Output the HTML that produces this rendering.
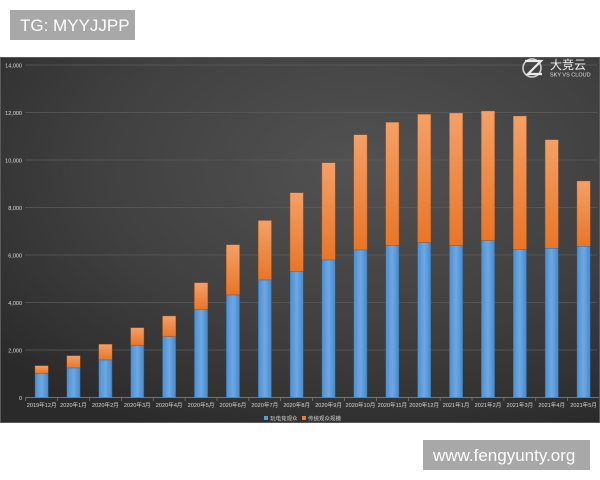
<!DOCTYPE html>
<html><head><meta charset="utf-8"><style>
html,body{margin:0;padding:0;background:#fff;width:600px;height:480px;overflow:hidden}
svg{display:block}
</style></head><body>
<svg width="600" height="480" viewBox="0 0 600 480" xmlns="http://www.w3.org/2000/svg" font-family="Liberation Sans, Noto Sans CJK SC, sans-serif">
<defs>
<radialGradient id="bg" cx="0.6" cy="0.3" r="0.8">
<stop offset="0" stop-color="#525252"/>
<stop offset="0.55" stop-color="#404040"/>
<stop offset="1" stop-color="#2a2a2a"/>
</radialGradient>
<linearGradient id="bl" x1="0" y1="0" x2="1" y2="0">
<stop offset="0" stop-color="#4f8fd0"/>
<stop offset="0.5" stop-color="#6aa9e6"/>
<stop offset="1" stop-color="#4a88c8"/>
</linearGradient>
<linearGradient id="or" x1="0" y1="0" x2="0" y2="1">
<stop offset="0" stop-color="#f5a066"/>
<stop offset="1" stop-color="#ea7526"/>
</linearGradient>
</defs>
<rect x="10" y="10" width="125" height="30" fill="#a8a8a8"/>
<text x="20" y="31" font-size="17" fill="#fff">TG: MYYJJPP</text>
<rect x="0" y="57" width="600" height="366" fill="url(#bg)"/>
<rect x="0.5" y="57.5" width="599" height="365" fill="none" stroke="#5a5a5a" stroke-width="1"/>
<g stroke="#5c5c5c" stroke-width="0.8">
<line x1="25" y1="350" x2="597" y2="350"/>
<line x1="25" y1="302.5" x2="597" y2="302.5"/>
<line x1="25" y1="255" x2="597" y2="255"/>
<line x1="25" y1="207.5" x2="597" y2="207.5"/>
<line x1="25" y1="160" x2="597" y2="160"/>
<line x1="25" y1="112.5" x2="597" y2="112.5"/>
<line x1="25" y1="65" x2="597" y2="65"/>
</g>
<g font-size="5.5" fill="#dcdcdc" text-anchor="end">
<text x="22" y="400">0</text>
<text x="22" y="352.5">2,000</text>
<text x="22" y="305">4,000</text>
<text x="22" y="257.5">6,000</text>
<text x="22" y="210">8,000</text>
<text x="22" y="162.5">10,000</text>
<text x="22" y="115">12,000</text>
<text x="22" y="67.5">14,000</text>
</g>
<g fill="url(#or)" stroke="#a9561c" stroke-width="0.4">
<rect x="35" y="365.7" width="13.3" height="7.6"/>
<rect x="66.88" y="355.7" width="13.3" height="12.3"/>
<rect x="98.76" y="344.3" width="13.3" height="15.7"/>
<rect x="130.64" y="327.7" width="13.3" height="17.6"/>
<rect x="162.52" y="316" width="13.3" height="20.7"/>
<rect x="194.4" y="282.7" width="13.3" height="26.6"/>
<rect x="226.28" y="244.7" width="13.3" height="50.3"/>
<rect x="258.16" y="220.5" width="13.3" height="59.5"/>
<rect x="290.04" y="192.7" width="13.3" height="78.6"/>
<rect x="321.92" y="162.7" width="13.3" height="97.3"/>
<rect x="353.8" y="134.7" width="13.3" height="115.3"/>
<rect x="385.68" y="122.3" width="13.3" height="123"/>
<rect x="417.56" y="114.3" width="13.3" height="128.4"/>
<rect x="449.44" y="113" width="13.3" height="132.7"/>
<rect x="481.32" y="111" width="13.3" height="129.7"/>
<rect x="513.2" y="116" width="13.3" height="133.3"/>
<rect x="545.08" y="139.7" width="13.3" height="108.6"/>
<rect x="576.96" y="181" width="13.3" height="65.3"/>
</g>
<g fill="url(#bl)" stroke="#2f5f90" stroke-width="0.4">
<rect x="35" y="373.3" width="13.3" height="24.2"/>
<rect x="66.88" y="368" width="13.3" height="29.5"/>
<rect x="98.76" y="360" width="13.3" height="37.5"/>
<rect x="130.64" y="345.3" width="13.3" height="52.2"/>
<rect x="162.52" y="336.7" width="13.3" height="60.8"/>
<rect x="194.4" y="309.3" width="13.3" height="88.2"/>
<rect x="226.28" y="295" width="13.3" height="102.5"/>
<rect x="258.16" y="280" width="13.3" height="117.5"/>
<rect x="290.04" y="271.3" width="13.3" height="126.2"/>
<rect x="321.92" y="260" width="13.3" height="137.5"/>
<rect x="353.8" y="250" width="13.3" height="147.5"/>
<rect x="385.68" y="245.3" width="13.3" height="152.2"/>
<rect x="417.56" y="242.7" width="13.3" height="154.8"/>
<rect x="449.44" y="245.7" width="13.3" height="151.8"/>
<rect x="481.32" y="240.7" width="13.3" height="156.8"/>
<rect x="513.2" y="249.3" width="13.3" height="148.2"/>
<rect x="545.08" y="248.3" width="13.3" height="149.2"/>
<rect x="576.96" y="246.3" width="13.3" height="151.2"/>
</g>
<line x1="25.7" y1="397.5" x2="599" y2="397.5" stroke="#8a8a8a" stroke-width="0.8"/>
<g stroke="#8a8a8a" stroke-width="0.6">
<line x1="25.7" y1="397.5" x2="25.7" y2="401"/>
<line x1="57.58" y1="397.5" x2="57.58" y2="401"/>
<line x1="89.46" y1="397.5" x2="89.46" y2="401"/>
<line x1="121.34" y1="397.5" x2="121.34" y2="401"/>
<line x1="153.22" y1="397.5" x2="153.22" y2="401"/>
<line x1="185.1" y1="397.5" x2="185.1" y2="401"/>
<line x1="216.98" y1="397.5" x2="216.98" y2="401"/>
<line x1="248.86" y1="397.5" x2="248.86" y2="401"/>
<line x1="280.74" y1="397.5" x2="280.74" y2="401"/>
<line x1="312.62" y1="397.5" x2="312.62" y2="401"/>
<line x1="344.5" y1="397.5" x2="344.5" y2="401"/>
<line x1="376.38" y1="397.5" x2="376.38" y2="401"/>
<line x1="408.26" y1="397.5" x2="408.26" y2="401"/>
<line x1="440.14" y1="397.5" x2="440.14" y2="401"/>
<line x1="472.02" y1="397.5" x2="472.02" y2="401"/>
<line x1="503.9" y1="397.5" x2="503.9" y2="401"/>
<line x1="535.78" y1="397.5" x2="535.78" y2="401"/>
<line x1="567.66" y1="397.5" x2="567.66" y2="401"/>
</g>
<g font-size="5.6" fill="#d8d8d8" text-anchor="middle">
<text x="41.65" y="407">2019年12月</text>
<text x="73.53" y="407">2020年1月</text>
<text x="105.41" y="407">2020年2月</text>
<text x="137.29" y="407">2020年3月</text>
<text x="169.17" y="407">2020年4月</text>
<text x="201.05" y="407">2020年5月</text>
<text x="232.93" y="407">2020年6月</text>
<text x="264.81" y="407">2020年7月</text>
<text x="296.69" y="407">2020年8月</text>
<text x="328.57" y="407">2020年9月</text>
<text x="360.45" y="407">2020年10月</text>
<text x="392.33" y="407">2020年11月</text>
<text x="424.21" y="407">2020年12月</text>
<text x="456.09" y="407">2021年1月</text>
<text x="487.97" y="407">2021年2月</text>
<text x="519.85" y="407">2021年3月</text>
<text x="551.73" y="407">2021年4月</text>
<text x="583.61" y="407">2021年5月</text>
</g>
<rect x="264" y="416" width="4" height="4" fill="#5b9bd5"/>
<text x="270" y="420.5" font-size="5.5" fill="#cfcfcf">玩电竞观众</text>
<rect x="302" y="416" width="4" height="4" fill="#ed7d31"/>
<text x="308" y="420.5" font-size="5.5" fill="#cfcfcf">传统观众规模</text>
<g>
<circle cx="532" cy="68" r="9" fill="none" stroke="#cfcfcf" stroke-width="1.6"/>
<path d="M525 61 L541 61 L528 74 L542 74" fill="none" stroke="#eaeaea" stroke-width="2.2"/>
<text x="550" y="69" font-size="12" fill="#f0f0f0">大竞云</text>
<text x="550" y="76.5" font-size="5.5" fill="#e0e0e0">SKY VS CLOUD</text>
</g>
<rect x="423" y="440" width="167" height="30" fill="#a8a8a8"/>
<text x="433" y="461" font-size="17" fill="#fff">www.fengyunty.org</text>
</svg>
</body></html>
